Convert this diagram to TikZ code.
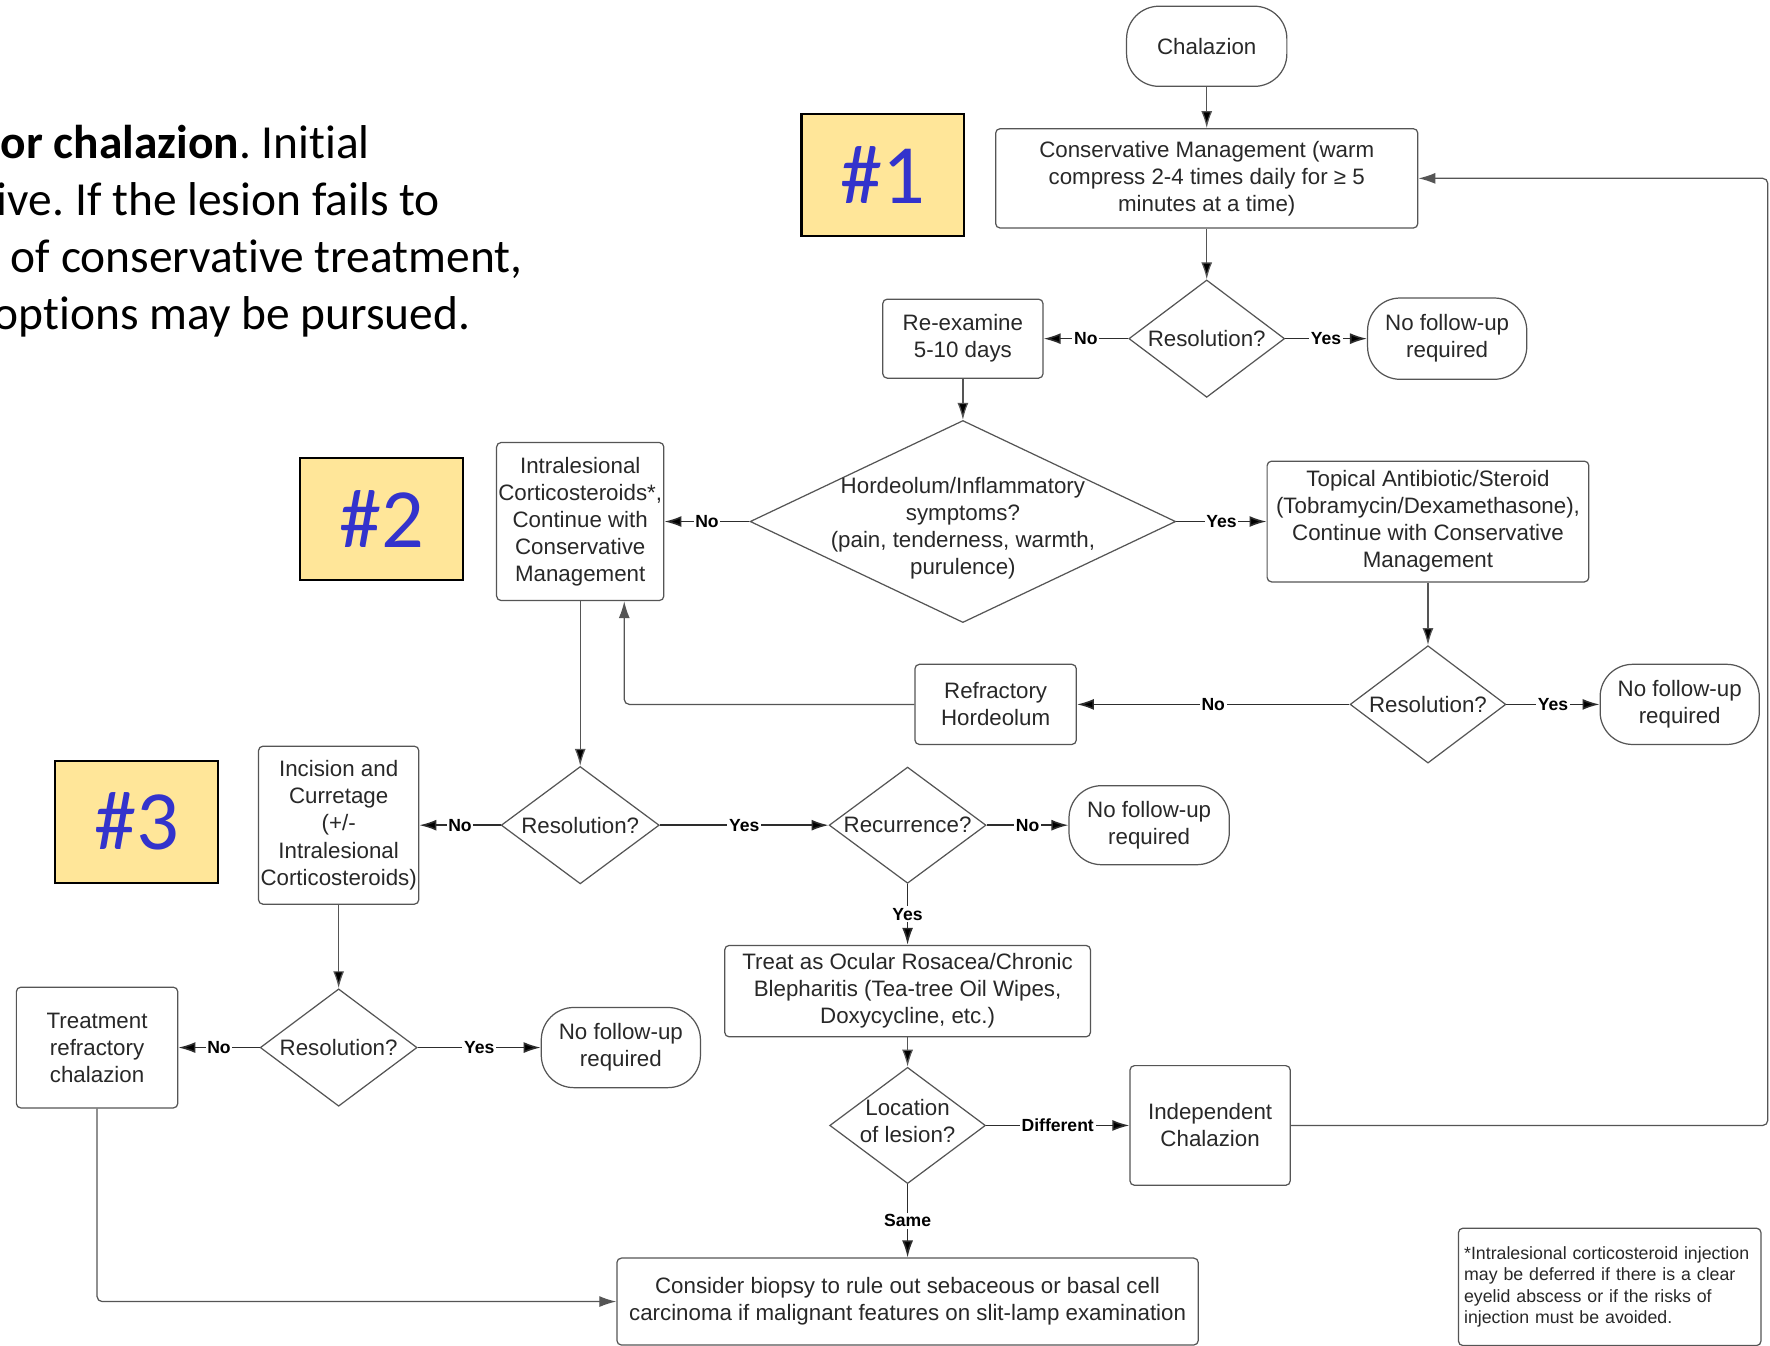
\documentclass[tikz,border=0pt]{standalone}
\usepackage{fontspec}
\setmainfont{Liberation Sans}
\newfontfamily\calibri[Ligatures=NoCommon]{Carlito}
\usepackage{tikz}
\usetikzlibrary{arrows.meta,shapes.geometric}
\frenchspacing

\newcommand{\dpx}{0.22577mm}
\definecolor{tagfill}{RGB}{255,230,153}
\definecolor{tagblue}{RGB}{51,51,204}
\definecolor{linegray}{RGB}{85,85,85}
\definecolor{labelline}{RGB}{45,45,45}
\definecolor{boxgray}{RGB}{85,85,85}
\definecolor{txtgray}{RGB}{40,40,40}

\begin{document}
\begin{tikzpicture}[x=\dpx,y=-\dpx,>={Latex[length=3.4mm,width=2.2mm]},
  every node/.style={text=txtgray,font=\fontsize{12.7}{15.4}\selectfont},
  box/.style={draw=boxgray,line width=0.7pt,rounded corners=0.9mm,align=center,inner sep=1pt},
  term/.style={box,rounded corners=6.5mm},
  dec/.style={diamond,draw=boxgray,line width=0.7pt,inner sep=0pt},
  tag/.style={draw=black,line width=1.3pt,fill=tagfill,text=tagblue,
    font=\calibri\fontsize{48}{50}\selectfont,minimum width=144*\dpx,minimum height=108*\dpx},
  caption/.style={anchor=base east,inner sep=0pt,text=black,font=\calibri\fontsize{27}{32.6}\selectfont},
  lbl/.style={font=\bfseries\fontsize{10}{12}\selectfont,text=black,fill=white,inner sep=1pt},
  flow/.style={->,draw=linegray,line width=0.7pt},
  yesno/.style={->,draw=labelline,line width=0.9pt}]
  \useasboundingbox (0,0) rectangle (1568,1192);
  \fill[white] (0,0) rectangle (1568,1192);

  \node[caption] (cap1) at (328,140) {\textbf{or chalazion}. Initial};
  \node[caption] (cap2) at (390,190.5) {tive. If the lesion fails to};
  \node[caption] (cap3) at (463,241.5) {of conservative treatment,};
  \node[caption] (cap4) at (417,292) {options may be pursued.};

  \node[tag] (t1) at (782,155) {\#1};
  \node[tag] (t2) at (338,460) {\#2};
  \node[tag] (t3) at (121,728) {\#3};

  \node[term,minimum width=142*\dpx,minimum height=71*\dpx] (chal) at (1069,41) {Chalazion};
  \node[box,minimum width=374*\dpx,minimum height=88*\dpx] (cons) at (1069,158)
    {Conservative Management (warm\\compress 2-4 times daily for ≥ 5\\minutes at a time)};
  \node[dec,minimum width=138*\dpx,minimum height=104*\dpx,label=center:Resolution?] (res1) at (1069,300) {};
  \node[box,minimum width=142*\dpx,minimum height=70*\dpx] (reex) at (853,300) {Re-examine\\5-10 days};
  \node[term,minimum width=141*\dpx,minimum height=72*\dpx] (fu1) at (1282,300) {No follow-up\\required};

  \node[dec,minimum width=377*\dpx,minimum height=179*\dpx,
    label={[align=center,yshift=-6*\dpx]center:Hordeolum/Inflammatory\\symptoms?\\(pain, tenderness, warmth,\\purulence)}] (hord) at (853,462) {};
  \node[box,minimum width=143*\dpx,minimum height=140*\dpx] (intra) at (514,462)
    {Intralesional\\Corticosteroids*,\\Continue with\\Conservative\\Management};
  \node[box,minimum width=285*\dpx,minimum height=107*\dpx] (topi) at (1265,462)
    {Topical Antibiotic/Steroid\\(Tobramycin/Dexamethasone),\\Continue with Conservative\\Management};
  \node[dec,minimum width=138*\dpx,minimum height=104*\dpx,label=center:Resolution?] (res2) at (1265,624) {};
  \node[term,minimum width=141*\dpx,minimum height=71*\dpx] (fu2) at (1488,624) {No follow-up\\required};
  \node[box,minimum width=143*\dpx,minimum height=71*\dpx] (refr) at (882,624) {Refractory\\Hordeolum};

  \node[dec,minimum width=140*\dpx,minimum height=104*\dpx,label=center:Resolution?] (res3) at (514,731) {};
  \node[box,minimum width=142*\dpx,minimum height=140*\dpx] (incis) at (300,731)
    {Incision and\\Curretage\\(+/-\\Intralesional\\Corticosteroids)};
  \node[dec,minimum width=139*\dpx,minimum height=103*\dpx,label=center:Recurrence?] (recur) at (804,731) {};
  \node[term,minimum width=142*\dpx,minimum height=70*\dpx] (fu3) at (1018,731) {No follow-up\\required};
  \node[box,minimum width=324*\dpx,minimum height=81*\dpx] (ocul) at (804,878)
    {Treat as Ocular Rosacea/Chronic\\Blepharitis (Tea-tree Oil Wipes,\\Doxycycline, etc.)};
  \node[dec,minimum width=138*\dpx,minimum height=103*\dpx,
    label={[align=center,yshift=4*\dpx]center:Location\\of lesion?}] (loc) at (804,997) {};
  \node[box,minimum width=142*\dpx,minimum height=106*\dpx] (indep) at (1072,997) {Independent\\Chalazion};
  \node[box,minimum width=515*\dpx,minimum height=77*\dpx] (biop) at (804,1153)
    {Consider biopsy to rule out sebaceous or basal cell\\carcinoma if malignant features on slit-lamp examination};

  \node[dec,minimum width=139*\dpx,minimum height=104*\dpx,label=center:Resolution?] (res4) at (300,928) {};
  \node[box,minimum width=143*\dpx,minimum height=107*\dpx] (trref) at (86,928) {Treatment\\refractory\\chalazion};
  \node[term,minimum width=141*\dpx,minimum height=71*\dpx] (fu4) at (550,928) {No follow-up\\required};

  \node[box,align=left,text width=258*\dpx,minimum height=104*\dpx,inner xsep=5*\dpx,
    font=\fontsize{10.1}{12.2}\selectfont] (note) at (1426,1140)
    {*Intralesional corticosteroid injection\\may be deferred if there is a clear\\eyelid abscess or if the risks of\\injection must be avoided.};

  \path[flow]
    (chal) edge (cons)
    (cons) edge (res1)
    (reex) edge (hord)
    (topi) edge (res2)
    (intra) edge (res3)
    (incis) edge (res4)
    (ocul) edge (loc);
  \path[yesno,every node/.style={lbl}]
    (res1) edge node {No} (reex)
    (res1) edge node {Yes} (fu1)
    (hord) edge node {No} (intra)
    (hord) edge node {Yes} (topi)
    (res2) edge node {Yes} (fu2)
    (res2) edge node {No} (refr)
    (res3) edge node {No} (incis)
    (res3) edge node {Yes} (recur)
    (recur) edge node {No} (fu3)
    (recur) edge node {Yes} (ocul)
    (loc) edge node {Different} (indep)
    (loc) edge node {Same} (biop)
    (res4) edge node {No} (trref)
    (res4) edge node {Yes} (fu4);

  \coordinate (rim) at (1566,158);
  \draw[flow,rounded corners=1mm] (refr.west) -| ([xshift=39*\dpx]intra.south);
  \draw[flow,rounded corners=1mm] (indep.east) -| (rim) -- (cons.east);
  \draw[flow,rounded corners=1mm] (trref.south) |- (biop.west);
\end{tikzpicture}
\end{document}
